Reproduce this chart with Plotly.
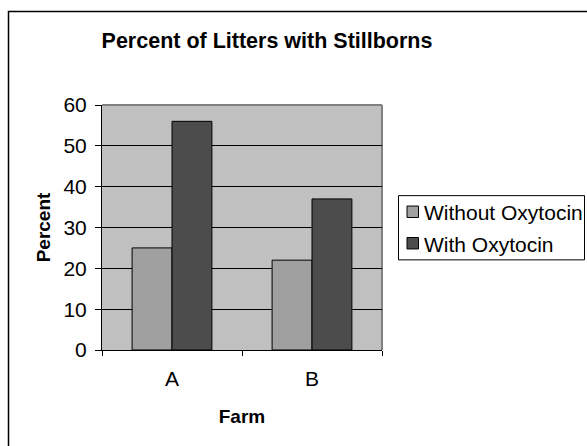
import plotly.graph_objects as go

categories = ["A", "B"]
series_names = ["Without Oxytocin", "With Oxytocin"]
series_colors = ["#A0A0A0", "#4C4C4C"]
without_vals = [25, 22]
with_vals = [56, 37]
y_ticks = [0, 10, 20, 30, 40, 50, 60]

W, H = 587, 446
L, R, T, B = 102, 382, 104.5, 350.5
FONT = "Arial, Liberation Sans, sans-serif"


def px(x):
    return (x - L) / (R - L)


def py(y):
    return (B - y) / (B - T)


fig = go.Figure()
for vals, name, color in zip([without_vals, with_vals], series_names, series_colors):
    fig.add_trace(go.Bar(x=categories, y=vals, name=name, showlegend=False,
                         marker=dict(color=color, line=dict(color="black", width=1))))

shapes = [
    dict(type="line", xref="paper", yref="paper", x0=0, x1=1, y0=1, y1=1,
         line=dict(color="#808080", width=2), layer="below"),
    dict(type="line", xref="paper", yref="paper", x0=1, x1=1, y0=0, y1=1,
         line=dict(color="#808080", width=2), layer="below"),
    dict(type="rect", xref="paper", yref="paper", x0=px(8.5), x1=px(600), y0=py(460), y1=py(10.5),
         line=dict(color="black", width=1.5), fillcolor="rgba(0,0,0,0)", layer="above"),
    dict(type="rect", xref="paper", yref="paper", x0=px(398.5), x1=px(584.5), y0=py(260), y1=py(195.5),
         line=dict(color="black", width=1), fillcolor="white", layer="above"),
]
annotations = []
row_y = [211.7, 243.3]
for name, color, yc in zip(series_names, series_colors, row_y):
    shapes.append(dict(type="rect", xref="paper", yref="paper",
                       x0=px(407), x1=px(418.5), y0=py(yc + 5.75), y1=py(yc - 5.75),
                       line=dict(color="black", width=1), fillcolor=color, layer="above"))
    annotations.append(dict(text=name, xref="paper", yref="paper", x=px(422), y=py(yc + 1),
                            xanchor="left", yanchor="middle", showarrow=False,
                            font=dict(family=FONT, size=21, color="black")))

fig.update_layout(
    width=W, height=H,
    margin=dict(l=L, r=W - R, t=T, b=H - B, pad=0, autoexpand=False),
    paper_bgcolor="white",
    plot_bgcolor="#C0C0C0",
    barmode="group", bargap=0.43, bargroupgap=0,
    font=dict(family=FONT, size=21, color="black"),
    showlegend=False,
    title=dict(text="<b>Percent of Litters with Stillborns</b>",
               font=dict(family=FONT, size=21.5, color="black"),
               x=267 / W, xanchor="center", xref="container",
               y=1 - 40 / H, yanchor="middle", yref="container"),
    xaxis=dict(showline=True, linecolor="black", linewidth=1,
               ticks="outside", ticklen=5, tickcolor="black",
               tickson="boundaries", showgrid=False,
               ticklabelstandoff=10,
               tickfont=dict(family=FONT, size=21),
               title=dict(text="<b>Farm</b>", font=dict(family=FONT, size=19), standoff=20)),
    yaxis=dict(range=[0, 60], tickvals=y_ticks, showline=True, linecolor="black", linewidth=1,
               ticks="outside", ticklen=6, tickcolor="black",
               showgrid=True, gridcolor="black", gridwidth=1, zeroline=False,
               ticklabelstandoff=4,
               tickfont=dict(family=FONT, size=21),
               title=dict(text="<b>Percent</b>", font=dict(family=FONT, size=19), standoff=7)),
    shapes=shapes,
    annotations=annotations,
)

fig.write_html("out.html",
               config={"displayModeBar": False},
               post_script="document.body.style.margin='0';document.body.style.overflow='hidden';")
